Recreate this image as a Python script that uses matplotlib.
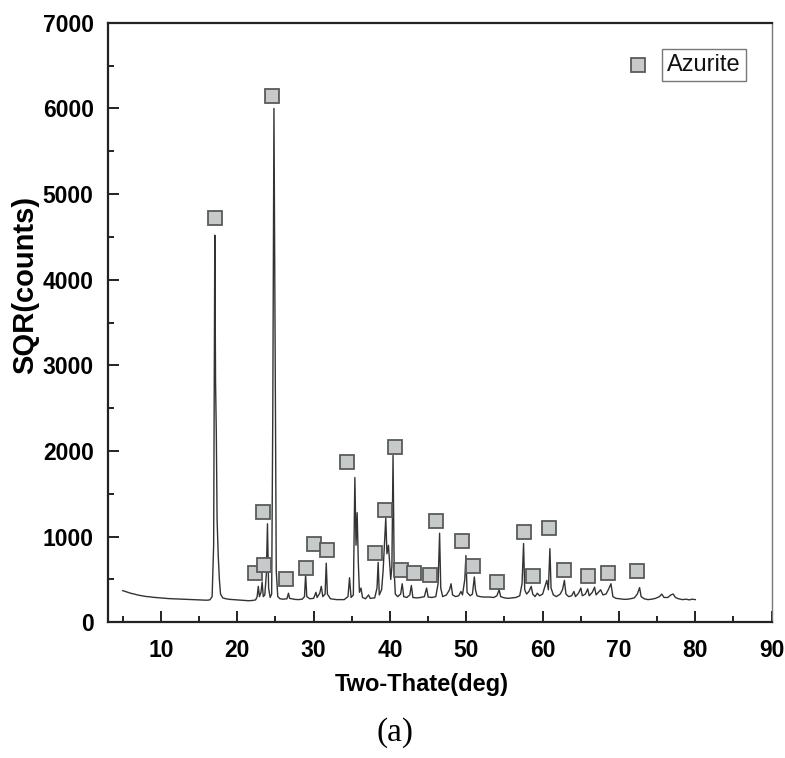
import matplotlib
matplotlib.use("Agg")
import matplotlib.pyplot as plt
from matplotlib.ticker import MultipleLocator

# XRD trace (two-theta in deg, counts)
two_theta = [
    5.0, 5.5, 6.0, 6.5, 7.0, 7.5, 8.0, 8.5, 9.0, 9.5, 10.0, 10.5, 11.0, 11.5,
    12.0, 12.5, 13.0, 13.5, 14.0, 14.5, 15.0, 15.5, 16.0, 16.4, 16.7, 16.9,
    17.05, 17.15, 17.25, 17.35, 17.5, 17.65, 17.8, 18.1, 18.5, 19.0, 19.5,
    20.0, 20.5, 21.0, 21.5, 22.0, 22.4, 22.6, 22.75, 22.9, 23.1, 23.25, 23.4,
    23.6, 23.8, 23.95, 24.1, 24.3, 24.5, 24.65, 24.8, 24.95, 25.1, 25.3, 25.6,
    26.0, 26.5, 26.7, 26.85, 27.5, 28.0, 28.5, 28.8, 28.95, 29.1, 29.5, 30.0,
    30.3, 30.45, 30.8, 31.0, 31.2, 31.5, 31.65, 31.8, 32.2, 33.0, 34.0, 34.5,
    34.7, 34.9, 35.2, 35.4, 35.55, 35.7, 35.85, 36.0, 36.2, 36.4, 36.8, 37.2,
    37.4, 38.0, 38.3, 38.45, 38.6, 38.9, 39.1, 39.3, 39.45, 39.6, 39.8, 39.95,
    40.1, 40.25, 40.4, 40.55, 40.7, 41.0, 41.4, 41.6, 41.8, 42.2, 42.6, 42.8,
    43.0, 43.5, 44.0, 44.5, 44.8, 45.0, 45.5, 46.0, 46.3, 46.5, 46.65, 46.9,
    47.4, 47.8, 48.0, 48.2, 48.6, 49.0, 49.3, 49.5, 49.8, 49.95, 50.1, 50.5,
    50.8, 51.05, 51.2, 51.4, 51.8, 52.3, 53.0, 53.6, 54.0, 54.3, 54.5, 55.0,
    55.5, 56.0, 56.5, 57.0, 57.3, 57.5, 57.65, 57.9, 58.2, 58.5, 58.7, 59.0,
    59.3, 59.6, 60.0, 60.3, 60.55, 60.75, 60.95, 61.1, 61.4, 61.8, 62.3, 62.6,
    62.85, 63.05, 63.4, 63.8, 64.1, 64.3, 64.7, 65.0, 65.2, 65.6, 65.9, 66.1,
    66.5, 66.8, 67.0, 67.4, 67.6, 67.9, 68.3, 68.6, 68.95, 69.2, 69.6, 70.0,
    70.5, 71.0, 71.5, 72.0, 72.4, 72.7, 72.9, 73.3, 73.8, 74.3, 74.8, 75.3,
    75.6, 75.9, 76.4, 76.8, 77.1, 77.4, 77.8, 78.3, 78.8, 79.2, 79.6, 80.0,
]
counts = [
    370, 355, 340, 330, 318, 310, 302, 298, 292, 288, 283, 280, 277, 275,
    272, 270, 268, 266, 265, 262, 262, 260, 258, 262, 300, 900,
    4520, 2800, 2200, 1200, 780, 500, 330, 285, 275, 268, 265,
    262, 258, 255, 252, 255, 262, 300, 420, 300, 350, 470, 300,
    320, 560, 1150, 400, 290, 330, 2500, 6000, 3200, 600, 300, 275,
    270, 275, 340, 280, 268, 265, 270, 300, 560, 300, 275, 280,
    350, 290, 340, 420, 300, 330, 690, 330, 275, 265, 265, 300,
    520, 290, 320, 1690, 900, 1280, 700, 350, 400, 290, 275, 320,
    280, 285, 400, 700, 320, 380, 600, 950, 1220, 800, 900, 700,
    500, 650, 1950, 600, 330, 300, 330, 450, 300, 290, 320, 430,
    290, 285, 290, 300, 400, 295, 290, 300, 450, 1040, 400, 300,
    320, 380, 450, 320, 300, 310, 360, 320, 500, 780, 350, 310,
    330, 530, 380, 310, 300, 295, 295, 290, 310, 380, 300, 285,
    280, 285, 290, 310, 450, 920, 380, 330, 360, 420, 330, 300,
    340, 310, 330, 420, 490, 380, 860, 400, 320, 300, 330, 380,
    490, 330, 300, 310, 360, 300, 340, 400, 310, 330, 390, 310,
    350, 410, 320, 360, 380, 320, 330, 380, 450, 300, 280, 275,
    270, 268, 275, 285, 330, 405, 300, 275, 265, 270, 280, 300,
    330, 290, 290, 320, 330, 290, 275, 265, 270, 262, 270, 265,
]

# azurite peak markers
azurite_x = [17.1, 24.55, 22.3, 23.4, 23.5, 26.4, 29.0, 30.0, 31.7, 34.4,
             38.0, 39.4, 40.7, 41.5, 43.1, 45.3, 46.0, 49.4, 50.9, 54.0,
             57.5, 58.7, 60.8, 62.8, 65.9, 68.6, 72.3]
azurite_y = [4720, 6140, 575, 1290, 675, 500, 630, 910, 840, 1875,
             805, 1310, 2050, 605, 580, 555, 1185, 945, 662, 470,
             1050, 540, 1098, 608, 536, 578, 600]

x_ticks = [10, 20, 30, 40, 50, 60, 70, 80, 90]
y_ticks = [0, 1000, 2000, 3000, 4000, 5000, 6000, 7000]

plt.rcParams['font.family'] = ['Liberation Sans', 'DejaVu Sans']

fig = plt.figure(figsize=(7.85, 7.58), dpi=100)
ax = fig.add_axes([0.137, 0.179, 0.846, 0.791])

ax.plot(two_theta, counts, color='#333333', lw=1.0)

mk = dict(marker='s', ls='none', markersize=9.5, markerfacecolor='#c6caca',
          markeredgecolor='#5a5a5a', markeredgewidth=1.3)
ax.plot(azurite_x, azurite_y, **mk)

ax.set_xlim(3, 90)
ax.set_ylim(0, 7000)
ax.set_xticks(x_ticks)
ax.set_yticks(y_ticks)
ax.xaxis.set_minor_locator(MultipleLocator(5))
ax.yaxis.set_minor_locator(MultipleLocator(500))
ax.tick_params(which='major', direction='in', length=8, width=1.4,
               color='#222222', labelsize=16.5, pad=12)
ax.tick_params(which='minor', direction='in', length=4, width=1.4,
               color='#222222')
ax.tick_params(axis='y', pad=10)
for lab in ax.get_xticklabels() + ax.get_yticklabels():
    lab.set_fontweight('bold')

for side in ['left', 'bottom', 'top']:
    ax.spines[side].set_linewidth(1.6)
    ax.spines[side].set_color('#222222')
ax.spines['right'].set_linewidth(1.0)
ax.spines['right'].set_color('#777777')

# legend: marker plus boxed label
ax.plot([0.798], [0.930], transform=ax.transAxes, **mk)
ax.text(0.842, 0.930, 'Azurite', transform=ax.transAxes, fontsize=17,
        va='center', ha='left', color='#111111',
        bbox=dict(boxstyle='square,pad=0.22', fc='white', ec='#777777', lw=1.0))

fig.text(0.537, 0.0965, 'Two-Thate(deg)', fontsize=17, fontweight='bold',
         ha='center', va='center')
fig.text(0.032, 0.624, 'SQR(counts)', fontsize=21, fontweight='bold',
         rotation=90, ha='center', va='center')
fig.text(0.503, 0.034, '(a)', fontsize=24, family='Liberation Serif',
         ha='center', va='center')

fig.savefig('out.png', dpi=100)
